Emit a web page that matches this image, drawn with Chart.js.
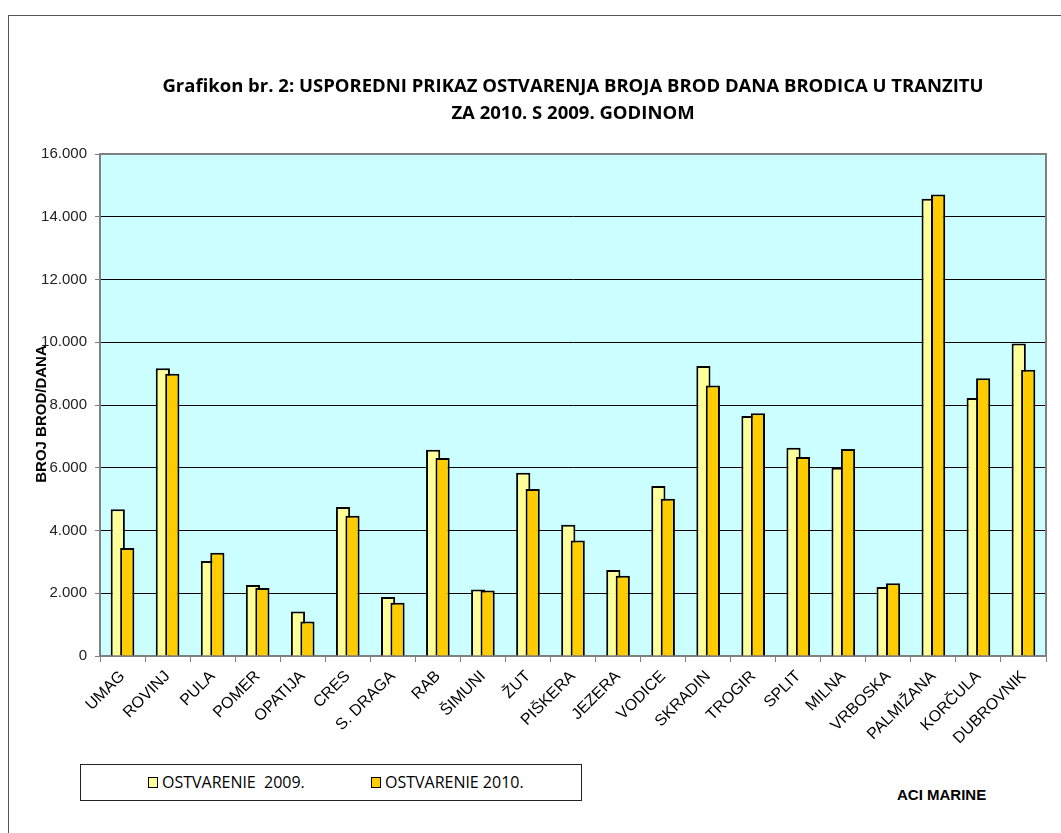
<!DOCTYPE html>
<html>
<head>
<meta charset="utf-8">
<script src="https://cdn.jsdelivr.net/npm/chart.js@4.4.1/dist/chart.umd.min.js"></script>
<style>
  body { margin: 0; background: #fff; }
  #wrap { position: relative; width: 1061px; height: 833px; overflow: hidden; }
  #frame { position: absolute; left: 8px; top: 15px; width: 1200px; height: 900px;
           border-left: 1px solid #555; border-top: 1px solid #555; }
  #c { position: absolute; left: 0; top: 0; }
  #legend { position: absolute; left: 80px; top: 764px; width: 502px; height: 37px;
            border: 1px solid #222; box-sizing: border-box;
            font-family: "Open Sans", sans-serif; font-size: 16px; color: #000; }
  #clip { position: absolute; left: 0; top: 0; right: 0; height: 23px; overflow: hidden; }
  .item { position: absolute; top: 7px; white-space: pre; line-height: 20px; }
  .sw { display: inline-block; width: 8px; height: 9px; border: 1px solid #000; margin-right: 4px; vertical-align: 0px; }
  #aci { position: absolute; left: 897px; top: 786px; font: bold 15px "Liberation Sans", Arial, sans-serif; }
</style>
</head>
<body>
<div id="wrap">
  <div id="frame"></div>
  <canvas id="c" width="1061" height="760"></canvas>
  <div id="legend"><div id="clip">
    <span class="item" style="left:67px"><span class="sw" style="background:#FFFF99"></span>OSTVARENJE  2009.</span>
    <span class="item" style="left:290px"><span class="sw" style="background:#FFCC00"></span>OSTVARENJE 2010.</span>
  </div></div>
  <div id="aci">ACI MARINE</div>
</div>
<script>
// podaci ocitani s grafikona
const marine = ['UMAG', 'ROVINJ', 'PULA', 'POMER', 'OPATIJA', 'CRES', 'S. DRAGA', 'RAB', 'ŠIMUNI', 'ŽUT',
  'PIŠKERA', 'JEZERA', 'VODICE', 'SKRADIN', 'TROGIR', 'SPLIT', 'MILNA', 'VRBOSKA', 'PALMIŽANA', 'KORČULA', 'DUBROVNIK'];
const ostvarenje2009 = [4680, 9170, 3030, 2260, 1420, 4750, 1880, 6570, 2120, 5840,
  4180, 2740, 5420, 9240, 7650, 6640, 6000, 2200, 14570, 8220, 9960];
const ostvarenje2010 = [3440, 9000, 3290, 2170, 1100, 4470, 1700, 6310, 2090, 5320,
  3680, 2560, 5010, 8620, 7740, 6340, 6600, 2320, 14710, 8850, 9120];
const titleLines = ['Grafikon br. 2: USPOREDNI PRIKAZ OSTVARENJA BROJA BROD DANA BRODICA U TRANZITU',
  'ZA 2010. S 2009. GODINOM'];
const yTitle = 'BROJ BROD/DANA';

// tisuce s tockom: 16000 -> 16.000
function fmt(v) {
  return String(v).replace(/\B(?=(\d{3})+(?!\d))/g, '.');
}

// pozadina, okvir, naslovi
const decor = {
  id: 'decor',
  beforeDraw(chart) {
    const { ctx, chartArea: a } = chart;
    ctx.save();
    ctx.fillStyle = '#CCFFFF';
    ctx.fillRect(a.left, a.top, a.right - a.left, a.bottom - a.top);
    ctx.restore();
  },
  // 2010 crta se preko 2009
  beforeDatasetsDraw(chart) {
    chart.getDatasetMeta(0).controller.draw();
    chart.getDatasetMeta(1).controller.draw();
    return false;
  },
  afterDraw(chart) {
    const { ctx, chartArea: a } = chart;
    ctx.save();
    ctx.strokeStyle = '#808080';
    ctx.lineWidth = 2;
    ctx.beginPath();
    ctx.moveTo(a.left, a.bottom);
    ctx.lineTo(a.left, a.top);
    ctx.lineTo(a.right, a.top);
    ctx.lineTo(a.right, a.bottom);
    ctx.stroke();
    ctx.fillStyle = '#000';
    ctx.textAlign = 'center';
    ctx.textBaseline = 'middle';
    ctx.font = 'bold 18.5px "Open Sans", sans-serif';
    const cx = (a.left + a.right) / 2;
    ctx.fillText(titleLines[0], cx, 87);
    ctx.fillText(titleLines[1], cx, 114);
    ctx.font = 'bold 15px "Liberation Sans", Arial, sans-serif';
    ctx.translate(42, 414);
    ctx.rotate(-Math.PI / 2);
    ctx.fillText(yTitle, 0, 0);
    ctx.restore();
  }
};

new Chart(document.getElementById('c'), {
  type: 'bar',
  data: {
    labels: marine,
    datasets: [
      {
        label: 'OSTVARENJE  2009.',
        data: ostvarenje2009,
        backgroundColor: '#FFFF99',
        borderColor: '#000',
        borderWidth: 2,
      },
      {
        label: 'OSTVARENJE 2010.',
        data: ostvarenje2010,
        backgroundColor: '#FFCC00',
        borderColor: '#000',
        borderWidth: 2,
      },
    ],
  },
  options: {
    responsive: false,
    animation: false,
    categoryPercentage: 0.42,
    barPercentage: 1.5,
    layout: { padding: { top: 154, right: 15, left: 0, bottom: 0 } },
    plugins: {
      legend: { display: false },
      title: { display: false },
      tooltip: { enabled: false },
    },
    scales: {
      x: {
        afterFit(scale) { scale.height = 104; },
        grid: { offset: true, drawOnChartArea: false, tickLength: 6, color: '#808080' },
        border: { color: '#808080', width: 2 },
        ticks: {
          autoSkip: false,
          maxRotation: 45,
          minRotation: 45,
          padding: 5,
          color: '#000',
          font: { family: '"Liberation Sans", Arial, sans-serif', size: 16 },
        },
      },
      y: {
        min: 0,
        max: 16000,
        afterFit(scale) { scale.width = 100; },
        grid: { color: '#000', lineWidth: 1, tickLength: 5, tickColor: '#808080' },
        border: { color: '#808080', width: 2 },
        ticks: {
          stepSize: 2000,
          padding: 8,
          color: '#222',
          font: { family: '"Liberation Sans", Arial, sans-serif', size: 15 },
          callback: (v) => fmt(v),
        },
      },
    },
  },
  plugins: [decor],
});
</script>
</body>
</html>
